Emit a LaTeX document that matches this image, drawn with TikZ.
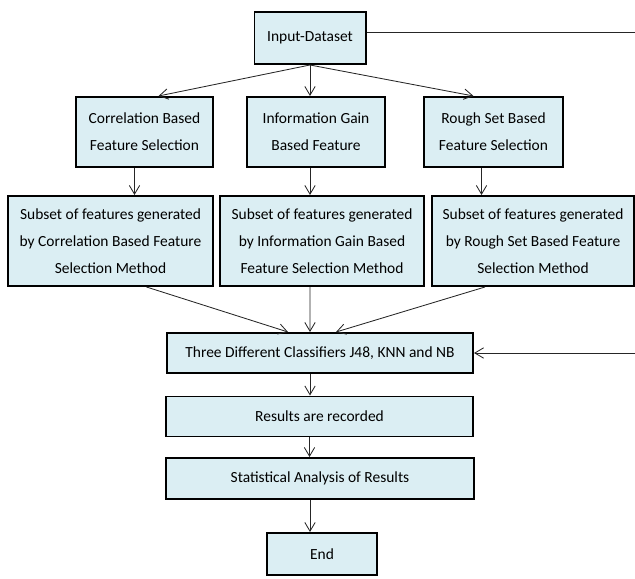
\documentclass[tikz,border=0pt]{standalone}
\usepackage{fontspec}
\setmainfont{Carlito}
\usetikzlibrary{arrows.meta}
\definecolor{boxblue}{RGB}{219,238,243}
\begin{document}
\begin{tikzpicture}[x=0.025cm,y=-0.025cm,
        box/.style={draw=black,line width=1.4pt,fill=boxblue,align=center,inner sep=0pt,
          font=\fontsize{11}{19}\selectfont},
        arr/.style={-{Straight Barb[length=2.2mm,width=2.6mm]},line width=0.6pt,draw=black!85}]
        \useasboundingbox (0,0) rectangle (635,578);
        \node[box,minimum width=2.775cm,minimum height=1.3cm] (I) at (310,38) {Input-Dataset};
        \node[box,minimum width=3.425cm,minimum height=1.75cm] (C) at (144.5,132) {Correlation Based\\Feature Selection};
        \node[box,minimum width=3.45cm,minimum height=1.75cm] (G) at (316,132) {Information Gain\\Based Feature};
        \node[box,minimum width=3.475cm,minimum height=1.75cm] (R) at (493.5,132) {Rough Set Based\\Feature Selection};
        \node[box,minimum width=5.125cm,minimum height=2.25cm] (X) at (110.5,241) {Subset of features generated\\by Correlation Based Feature\\Selection Method};
        \node[box,minimum width=5.1cm,minimum height=2.25cm] (Y) at (322,241) {Subset of features generated\\by Information Gain Based\\Feature Selection Method};
        \node[box,minimum width=5.05cm,minimum height=2.25cm] (Z) at (533,241) {Subset of features generated\\by Rough Set Based Feature\\Selection Method};
        \node[box,minimum width=7.65cm,minimum height=1cm] (K) at (320,353) {Three Different Classifiers J48, KNN and NB};
        \node[box,minimum width=7.675cm,minimum height=1cm] (Rs) at (319.5,416.5) {Results are recorded};
        \node[box,minimum width=7.7cm,minimum height=1.025cm] (St) at (320,478.5) {Statistical Analysis of Results};
        \node[box,minimum width=2.75cm,minimum height=1.05cm] (E) at (322,554) {End};
        \coordinate (P) at (635,32);
        \coordinate (Q) at (635,353);

        \draw[arr] (I.south) -- ([xshift=0.35cm]C.north);
        \draw[arr] (I.south) -- (I.south |- G.north);
        \draw[arr] (I.south) -- ([xshift=-0.5cm]R.north);
        \draw[line width=0.6pt,draw=black!85] (I.east |- P) -- (P);
        \draw[arr] ([xshift=-0.25cm]C.south) -- ([xshift=-0.25cm]C.south |- X.north);
        \draw[arr] ([xshift=-0.15cm]G.south) -- ([xshift=-0.15cm]G.south |- Y.north);
        \draw[arr] ([xshift=-0.3cm]R.south) -- ([xshift=-0.3cm]R.south |- Z.north);
        \draw[arr] ([xshift=0.9cm]X.south) -- ([xshift=-0.8cm]K.north);
        \draw[arr] ([xshift=-0.3cm]Y.south) -- ([xshift=-0.25cm]K.north);
        \draw[arr] ([xshift=-1.2cm]Z.south) -- ([xshift=0.4cm]K.north);
        \draw[arr] (Q) -- (K.east);
        \draw[arr] ([xshift=-0.25cm]K.south) -- ([xshift=-0.25cm]K.south |- Rs.north);
        \draw[arr] ([xshift=-0.25cm]Rs.south) -- ([xshift=-0.25cm]Rs.south |- St.north);
        \draw[arr] ([xshift=-0.25cm]St.south) -- ([xshift=-0.25cm]St.south |- E.north);
      \end{tikzpicture}
\end{document}
